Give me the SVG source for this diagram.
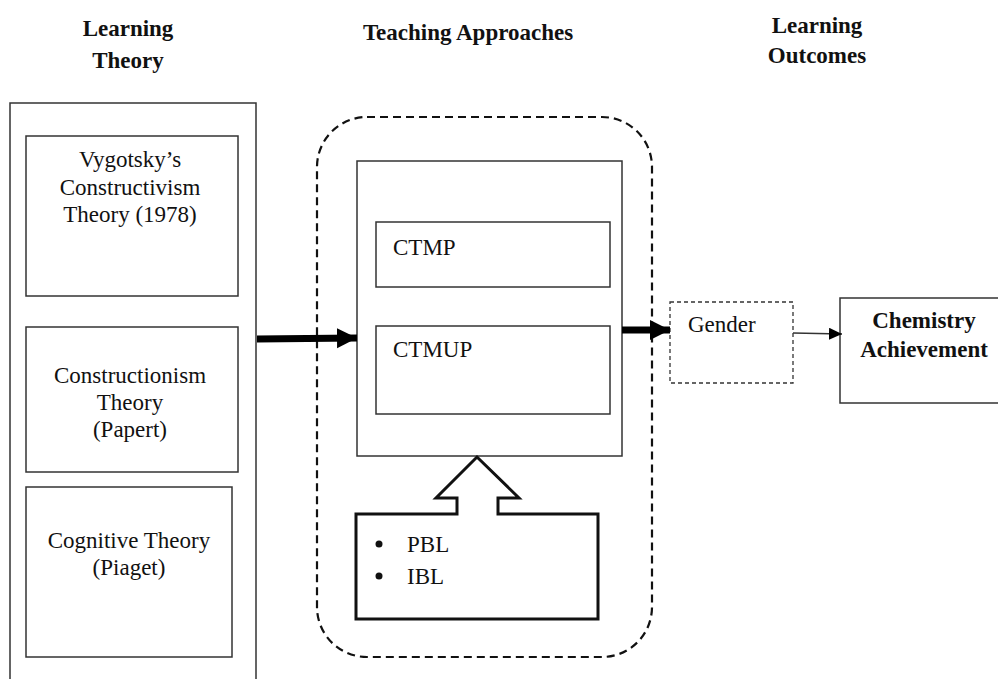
<svg xmlns="http://www.w3.org/2000/svg" width="998" height="679" viewBox="0 0 998 679">
<style>
  text { font-family: "Liberation Serif", "Times New Roman", serif; fill: #111; }
  .h { font-weight: bold; font-size: 23px; text-anchor: middle; }
  .t { font-size: 23px; }
  .c { text-anchor: middle; }
  .box { fill: none; stroke: #333; stroke-width: 1.5; }
  .thick { stroke: #000; stroke-width: 7; fill: none; }
  .thin { stroke: #333; stroke-width: 1.3; fill: none; }
</style>
<defs>
  <marker id="bigHead" markerUnits="userSpaceOnUse" markerWidth="22" markerHeight="22" refX="20" refY="10" orient="auto">
    <path d="M0,0 L20,10 L0,20 Z" fill="#000"/>
  </marker>
  <marker id="smallHead" markerUnits="userSpaceOnUse" markerWidth="14" markerHeight="14" refX="13" refY="6" orient="auto">
    <path d="M0,0 L13,6 L0,12 Z" fill="#000"/>
  </marker>
</defs>
<rect width="998" height="679" fill="#fff"/>

<g id="headers">
  <text class="h" x="128" y="36">Learning</text>
  <text class="h" x="128" y="68">Theory</text>
  <text class="h" x="468" y="40">Teaching Approaches</text>
  <text class="h" x="817" y="33">Learning</text>
  <text class="h" x="817" y="63">Outcomes</text>
</g>

<g id="learning-theory">
  <path class="box" d="M10,680 L10,103 L256,103 L256,680"/>
</g>
<g id="vygotsky">
  <rect class="box" x="26" y="136" width="212" height="160"/>
  <text class="t c" x="130" y="167">Vygotsky’s</text>
  <text class="t c" x="130" y="195">Constructivism</text>
  <text class="t c" x="130" y="222">Theory (1978)</text>
</g>
<g id="constructionism">
  <rect class="box" x="26" y="327" width="212" height="145"/>
  <text class="t c" x="130" y="383">Constructionism</text>
  <text class="t c" x="130" y="410">Theory</text>
  <text class="t c" x="130" y="437">(Papert)</text>
</g>
<g id="cognitive">
  <rect class="box" x="26" y="487" width="206" height="170"/>
  <text class="t c" x="129" y="548">Cognitive Theory</text>
  <text class="t c" x="129" y="575">(Piaget)</text>
</g>

<g id="teaching-approaches">
  <rect x="317" y="117" width="335" height="540" rx="50" ry="50" fill="none" stroke="#111" stroke-width="2.2" stroke-dasharray="8,5"/>
</g>
<g id="teaching-box">
  <rect class="box" x="357" y="161" width="265" height="295"/>
</g>
<g id="ctmp">
  <rect class="box" x="376" y="222" width="234" height="65"/>
  <text class="t" x="393" y="255">CTMP</text>
</g>
<g id="ctmup">
  <rect class="box" x="376" y="326" width="234" height="88"/>
  <text class="t" x="393" y="357">CTMUP</text>
</g>
<g id="pbl-ibl">
  <path d="M356,514 L457,514 L457,498 L436,498 L477,457 L519,498 L498,498 L498,514 L598,514 L598,619 L356,619 Z" fill="#fff" stroke="#111" stroke-width="3" stroke-linejoin="miter"/>
  <circle cx="379" cy="544" r="3.5" fill="#111"/>
  <circle cx="379" cy="576" r="3.5" fill="#111"/>
  <text class="t" x="407" y="552">PBL</text>
  <text class="t" x="407" y="584">IBL</text>
</g>

<g id="gender">
  <rect x="670" y="302" width="123" height="81" fill="none" stroke="#333" stroke-width="1.3" stroke-dasharray="4,3"/>
  <text class="t" x="688" y="332">Gender</text>
</g>
<g id="chemistry">
  <path class="box" d="M1000,298 L840,298 L840,403 L1000,403"/>
  <text class="h" x="924" y="328">Chemistry</text>
  <text class="h" x="924" y="357">Achievement</text>
</g>

<g id="connectors">
  <line class="thick" x1="257" y1="339" x2="357" y2="338" marker-end="url(#bigHead)"/>
  <line class="thick" x1="622" y1="330" x2="670" y2="330" marker-end="url(#bigHead)"/>
  <line class="thin" x1="793" y1="333" x2="842" y2="334" marker-end="url(#smallHead)"/>
</g>
</svg>
